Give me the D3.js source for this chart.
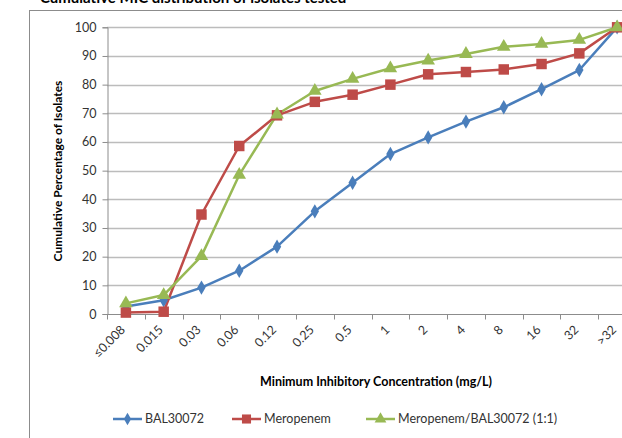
<!DOCTYPE html>
<html>
<head>
<meta charset="utf-8">
<script src="https://cdn.jsdelivr.net/npm/d3@7"></script>
<style>
  html, body { margin: 0; padding: 0; background: #fff; overflow: hidden; }
  svg { display: block; font-family: Lato, "Open Sans", "Liberation Sans", sans-serif; }
</style>
</head>
<body>
<svg id="chart" width="622" height="438"></svg>
<script>
// MIC categories (x axis)
const categories = ['\u22640.008', '0.015', '0.03', '0.06', '0.12', '0.25', '0.5', '1', '2', '4', '8', '16', '32', '>32'];

// cumulative % of isolates for each series
const bal30072 = [2.6, 4.8, 9.2, 15.1, 23.5, 35.8, 45.8, 55.8, 61.6, 67.1, 72.1, 78.4, 85.1, 100];
const meropenem = [0.5, 0.8, 34.7, 58.6, 69.3, 74.0, 76.5, 80.0, 83.6, 84.4, 85.3, 87.2, 90.9, 100];
const combo = [3.7, 6.6, 20.2, 48.5, 69.6, 77.8, 82.0, 85.7, 88.4, 90.7, 93.2, 94.2, 95.6, 100];

const yTicks = [0, 10, 20, 30, 40, 50, 60, 70, 80, 90, 100];

const series = [
  { name: 'BAL30072', values: bal30072, color: '#4a7ebb', symbol: d3.symbolDiamond, size: 60 },
  { name: 'Meropenem', values: meropenem, color: '#be4b48', symbol: d3.symbolSquare, size: 110 },
  { name: 'Meropenem/BAL30072 (1:1)', values: combo, color: '#98b954', symbol: d3.symbolTriangle, size: 80 }
];

const svg = d3.select('#chart');

// clipped figure caption remnant at the very top
svg.append('text')
  .attr('x', 40)
  .attr('y', 2.5)
  .style('font-size', '15px')
  .style('font-weight', 'bold')
  .style('fill', '#000')
  .text('Cumulative MIC distribution of isolates tested');

// outer chart frame (runs off the right and bottom edges)
svg.append('rect')
  .attr('x', 29.5)
  .attr('y', 10.5)
  .attr('width', 700)
  .attr('height', 500)
  .attr('fill', '#fff')
  .attr('stroke', '#8c8c8c')
  .attr('stroke-width', 1);

const x = d3.scalePoint()
  .domain(categories)
  .range([107, 636])
  .padding(0.5);

const y = d3.scaleLinear()
  .domain([0, 100])
  .range([314, 27.3]);

const plotLeft = 107, plotRight = 636;

// gridlines
svg.append('g')
  .selectAll('line')
  .data(yTicks.filter(d => d > 0))
  .enter().append('line')
  .attr('x1', plotLeft)
  .attr('x2', plotRight)
  .attr('y1', d => Math.round(y(d)) + 0.5)
  .attr('y2', d => Math.round(y(d)) + 0.5)
  .attr('stroke', '#bcbcbc')
  .attr('stroke-width', 1.3);

// y axis
const yAxis = svg.append('g')
  .attr('transform', `translate(${plotLeft + 0.5},0)`)
  .call(d3.axisLeft(y).tickValues(yTicks).tickSize(5).tickPadding(6));
yAxis.select('.domain').attr('stroke', '#8c8c8c');
yAxis.selectAll('.tick line').attr('stroke', '#8c8c8c');
yAxis.selectAll('.tick text')
  .style('font-size', '12.5px')
  .style('fill', '#333')
  .style('font-family', 'Lato, "Open Sans", sans-serif');

// x axis with tick marks between categories
const step = x.step();
const xAxisG = svg.append('g')
  .attr('transform', `translate(0,${Math.round(y(0)) + 0.5})`);
xAxisG.append('line')
  .attr('x1', plotLeft)
  .attr('x2', plotRight)
  .attr('stroke', '#8c8c8c');
xAxisG.selectAll('.sep')
  .data(d3.range(categories.length + 1))
  .enter().append('line')
  .attr('class', 'sep')
  .attr('x1', i => Math.round(plotLeft + i * step) + 0.5)
  .attr('x2', i => Math.round(plotLeft + i * step) + 0.5)
  .attr('y1', 0)
  .attr('y2', 5)
  .attr('stroke', '#8c8c8c');
xAxisG.selectAll('.lbl')
  .data(categories)
  .enter().append('text')
  .attr('class', 'lbl')
  .attr('transform', d => `translate(${x(d) - 3},${13}) rotate(-45)`)
  .attr('text-anchor', 'end')
  .attr('dy', '0.35em')
  .style('font-size', '12.5px')
  .style('fill', '#333')
  .text(d => d);

// axis titles
svg.append('text')
  .attr('transform', 'translate(62,171) rotate(-90)')
  .attr('text-anchor', 'middle')
  .style('font-size', '12px')
  .style('font-weight', 'bold')
  .style('fill', '#000')
  .text('Cumulative Percentage of Isolates');

svg.append('text')
  .attr('x', 376)
  .attr('y', 386)
  .attr('text-anchor', 'middle')
  .style('font-size', '12.5px')
  .style('font-weight', 'bold')
  .style('fill', '#000')
  .text('Minimum Inhibitory Concentration (mg/L)');

// series lines and markers
const line = d3.line()
  .x((d, i) => x(categories[i]))
  .y(d => y(d));

series.forEach(s => {
  svg.append('path')
    .datum(s.values)
    .attr('d', line)
    .attr('fill', 'none')
    .attr('stroke', s.color)
    .attr('stroke-width', 2.5)
    .attr('stroke-linejoin', 'round');
});

series.forEach(s => {
  svg.append('g')
    .selectAll('path')
    .data(s.values)
    .enter().append('path')
    .attr('d', d3.symbol().type(s.symbol).size(s.size))
    .attr('transform', (d, i) => `translate(${x(categories[i])},${y(d)})`)
    .attr('fill', s.color);
});

// legend
const legendX = [113, 232, 366];
const legend = svg.append('g').attr('transform', 'translate(0,419)');
series.forEach((s, i) => {
  const gItem = legend.append('g').attr('transform', `translate(${legendX[i]},0)`);
  gItem.append('line')
    .attr('x1', 0).attr('x2', 29)
    .attr('stroke', s.color)
    .attr('stroke-width', 2.5);
  gItem.append('path')
    .attr('d', d3.symbol().type(s.symbol).size(s.size * 0.75))
    .attr('transform', 'translate(14.5,0)')
    .attr('fill', s.color);
  gItem.append('text')
    .attr('x', 32)
    .attr('dy', '0.35em')
    .style('font-size', '12.5px')
    .style('fill', '#333')
    .text(s.name);
});
</script>
</body>
</html>
